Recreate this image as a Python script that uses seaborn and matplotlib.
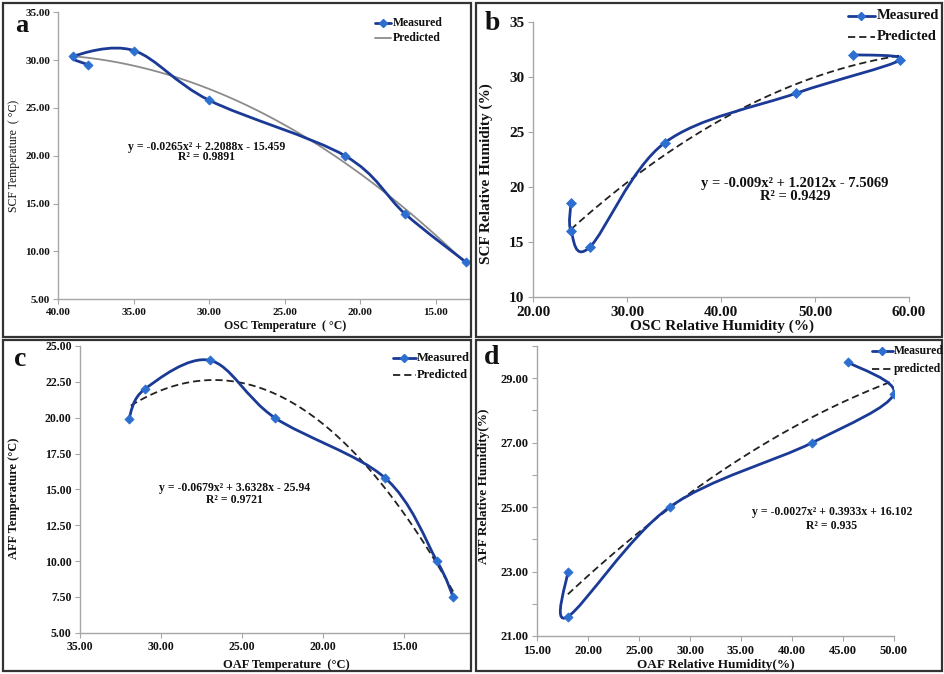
import numpy as np
import pandas as pd
import matplotlib
matplotlib.use("Agg")
import matplotlib.pyplot as plt
import seaborn as sns
from matplotlib.path import Path
from matplotlib.patches import PathPatch, Rectangle
from matplotlib.lines import Line2D
from matplotlib.ticker import FormatStrFormatter, MultipleLocator, FixedLocator

# ---------------- data ----------------
a_osc_temp = [38, 39, 35, 30, 21, 17, 13]
a_scf_temp = [29.5, 30.4, 31.0, 25.8, 20.0, 13.9, 8.9]

b_osc_rh = [24, 24, 26, 34, 48, 59, 54]
b_scf_rh = [18.5, 16.0, 14.5, 24.0, 28.5, 31.5, 32.0]

c_oaf_temp = [32, 31, 27, 23, 16.2, 13, 12]
c_aff_temp = [19.9, 22.0, 24.0, 20.0, 15.8, 10.0, 7.5]

d_oaf_rh = [18, 18, 28, 42, 50, 45.5]
d_aff_rh = [23.0, 21.6, 25.0, 27.0, 28.5, 29.5]
d_yticks = [21, 23, 25, 27, 29]

eq_a = ["y = -0.0265x² + 2.2088x - 15.459", "R² = 0.9891"]
eq_b = ["y = -0.009x² + 1.2012x - 7.5069", "R² = 0.9429"]
eq_c = ["y = -0.0679x² + 3.6328x - 25.94", "R² = 0.9721"]
eq_d = ["y = -0.0027x² + 0.3933x + 16.102", "R² = 0.935"]

# ---------------- style ----------------
sns.set_theme(style="white")
plt.rcParams["font.family"] = ["Liberation Serif", "DejaVu Serif"]
plt.rcParams["font.weight"] = "bold"

W, H = 945, 674
fig = plt.figure(figsize=(W / 100, H / 100), dpi=100)
fig.patch.set_facecolor("white")

LINE_C = "#1a3a96"
MARK_C = "#2c6fd0"
SPINE_C = "#a6a6a6"


def rect(l, t, r, b):
    return [l / W, 1 - b / H, (r - l) / W, (b - t) / H]


def fp(x, y):
    return (x / W, 1 - y / H)


def smooth_measured(ax, xs, ys):
    pts = ax.transData.transform(np.column_stack([xs, ys]))
    n = len(pts)
    verts = [pts[0]]
    codes = [Path.MOVETO]
    for i in range(n - 1):
        p0 = pts[i - 1] if i > 0 else pts[i]
        p1 = pts[i]
        p2 = pts[i + 1]
        p3 = pts[i + 2] if i + 2 < n else pts[i + 1]
        c1 = p1 + (p2 - p0) / 6.0
        c2 = p2 - (p3 - p1) / 6.0
        verts += [c1, c2, p2]
        codes += [Path.CURVE4] * 3
    verts = ax.transData.inverted().transform(np.array(verts))
    ax.add_patch(PathPatch(Path(verts, codes), fill=False, ec=LINE_C, lw=2.0,
                           transform=ax.transData, zorder=3, capstyle="round"))


def panel(box, xs, ys, xlim, ylim, xstep, ystep, yfmt, xfmt, pred_style,
          tick_fs, ms, pad=3):
    ax = fig.add_axes(rect(*box))
    df = pd.DataFrame({"x": xs, "y": ys})
    sns.regplot(data=df, x="x", y="y", order=2, ci=None, scatter=False,
                truncate=True, ax=ax, line_kws=pred_style)
    ax.set_xlim(*xlim)
    ax.set_ylim(*ylim)
    smooth_measured(ax, xs, ys)
    sns.scatterplot(data=df, x="x", y="y", marker="D", s=ms, color=MARK_C,
                    edgecolor=MARK_C, linewidth=0.5, ax=ax, zorder=4, legend=False)
    ax.set_xlim(*xlim)
    ax.set_ylim(*ylim)
    ax.set_xlabel("")
    ax.set_ylabel("")
    ax.set_facecolor("none")
    for s in ["top", "right"]:
        ax.spines[s].set_visible(False)
    for s in ["left", "bottom"]:
        ax.spines[s].set_color(SPINE_C)
        ax.spines[s].set_linewidth(1.0)
    ax.xaxis.set_major_locator(MultipleLocator(xstep))
    ax.yaxis.set_major_locator(MultipleLocator(ystep))
    ax.xaxis.set_major_formatter(FormatStrFormatter(xfmt))
    ax.yaxis.set_major_formatter(FormatStrFormatter(yfmt))
    ax.tick_params(axis="both", which="both", direction="out", length=3.5,
                   width=0.8, color=SPINE_C, labelsize=tick_fs, pad=pad,
                   labelcolor="#111111", bottom=True, left=True)
    return ax


gray_pred = dict(color="#8c8c8c", lw=1.3)
dash_pred = dict(color="#222222", lw=1.3, linestyle=(0, (4, 2.2)))

ax_a = panel((58.3, 12.3, 470, 299.3), a_osc_temp, a_scf_temp, (40, 12.72), (5, 35),
             5, 5, "%.2f", "%.2f", gray_pred, 8, 22, pad=2.5)
ax_b = panel((533.3, 21.7, 909, 296.7), b_osc_rh, b_scf_rh, (20, 60), (10, 35),
             10, 5, "%d", "%.2f", dash_pred, 11, 26)
ax_c = panel((80, 346, 470, 632.7), c_oaf_temp, c_aff_temp, (35, 10.96), (5, 25),
             5, 2.5, "%.2f", "%.2f", dash_pred, 8.5, 22, pad=2.5)
ax_d = panel((537.3, 346, 893.7, 636), d_oaf_rh, d_aff_rh, (15, 50), (21, 30),
             5, 2, "%.2f", "%.2f", dash_pred, 9, 22)
ax_d.yaxis.set_major_locator(FixedLocator(d_yticks))
ax_d.yaxis.set_minor_locator(MultipleLocator(1))
ax_d.tick_params(axis="y", which="minor", direction="out", length=3.5, width=0.8,
                 color=SPINE_C, left=True)

for ax in (ax_a, ax_b, ax_c, ax_d):
    plt.setp(ax.get_xticklabels() + ax.get_yticklabels(), fontweight="bold")


# ---------------- texts ----------------
def ftext(x, y, s, fs, **kw):
    kw.setdefault("ha", "center")
    kw.setdefault("va", "center")
    kw.setdefault("fontweight", "bold")
    fig.text(*fp(x, y), s, fontsize=fs, color="#111111", **kw)


ftext(21.7, 26, "a", 19)
ftext(492.3, 23, "b", 20)
ftext(20, 359, "c", 20)
ftext(491.7, 357, "d", 20)

ftext(285, 325.5, "OSC Temperature  ( °C)", 8.5)
ftext(14, 156, "SCF Temperature  ( °C)", 8.5, rotation=90, fontweight="normal")
ftext(721.7, 326.7, "OSC Relative Humidity (%)", 11)
ftext(486.7, 173.3, "SCF Relative Humidity (%)", 11, rotation=90)
ftext(286.7, 665, "OAF Temperature  (°C)", 9)
ftext(14, 498.3, "AFF Temperature (°C)", 9, rotation=90)
ftext(715.7, 665, "OAF Relative Humidity(%)", 9.5)
ftext(484.3, 486.7, "AFF Relative Humidity(%)", 9.5, rotation=90)

ftext(206.7, 146.7, eq_a[0], 8.5)
ftext(206.7, 157, eq_a[1], 8.5)
ftext(795, 183.3, eq_b[0], 10.5)
ftext(795, 197, eq_b[1], 10.5)
ftext(234.3, 488.3, eq_c[0], 8.5)
ftext(234.3, 500, eq_c[1], 8.5)
ftext(831.7, 512.3, eq_d[0], 8.5)
ftext(831.7, 525.7, eq_d[1], 8.5)


def legend(x0, x1, y_meas, y_pred, tx, fs, pred_label, pred_kw):
    xm = (x0 + x1) / 2
    fig.add_artist(Line2D([x0 / W, x1 / W], [1 - y_meas / H] * 2, color=LINE_C,
                          lw=2.0, transform=fig.transFigure))
    fig.add_artist(Line2D([xm / W], [1 - y_meas / H], marker="D", ms=4,
                          color=MARK_C, lw=0, transform=fig.transFigure))
    fig.add_artist(Line2D([x0 / W, x1 / W], [1 - y_pred / H] * 2,
                          transform=fig.transFigure, **pred_kw))
    ftext(tx, y_meas, "Measured", fs, ha="left")
    ftext(tx, y_pred, pred_label, fs, ha="left")


legend(375, 390.7, 23.3, 38.3, 392.7, 8.5, "Predicted", gray_pred)
legend(847.7, 875, 15.7, 36.7, 876.7, 10.5, "Predicted", dash_pred)
legend(392.7, 416, 358.3, 375.3, 416.7, 9, "Predicted", dash_pred)
legend(871.7, 893.3, 350.7, 369, 894.3, 8.5, "predicted", dash_pred)

for (l, t, r, b) in [(3, 3, 471, 337), (476, 3, 942, 337),
                     (3, 339.5, 471, 671), (476, 339.5, 942, 671)]:
    fig.add_artist(Rectangle((l / W, 1 - b / H), (r - l) / W, (b - t) / H,
                             transform=fig.transFigure, fill=False,
                             ec="#333333", lw=1.6))

fig.savefig("out.png", dpi=100, facecolor="white")
